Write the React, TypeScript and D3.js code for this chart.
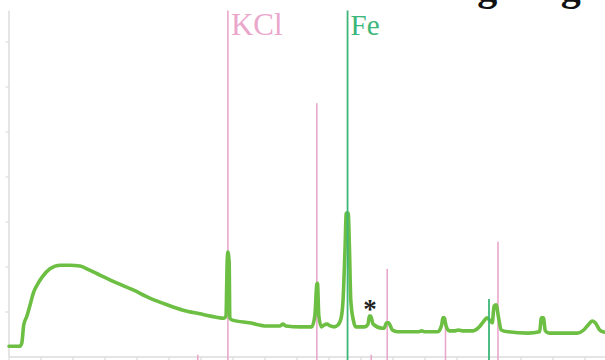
import { useEffect, useRef } from 'react';
import * as d3 from 'd3';

// measured pattern: 2-theta (deg) and intensity (k counts)
const TWO_THETA = [
  10.0, 10.8, 11.7, 12.0, 12.3, 12.8, 13.3, 13.8, 14.4, 15.2, 16.4, 18.0, 19.5, 21.1, 22.6,
  24.2, 26.9, 29.4, 32.0, 34.7, 37.2, 39.8, 42.2, 43.6, 43.9, 44.1, 44.2, 44.4, 44.5, 44.9,
  47.6, 50.3, 52.3, 52.8, 53.3, 55.5, 57.3, 57.8, 58.1, 58.2, 58.4, 58.8, 59.2, 59.7, 60.2,
  60.8, 61.4, 61.9, 62.2, 62.5, 62.7, 63.0, 63.2, 63.4, 63.8, 64.2, 65.6, 66.1, 66.3, 66.5,
  66.9, 68.3, 68.6, 69.0, 69.3, 69.9, 70.7, 72.3, 73.9, 74.5, 75.0, 77.0, 77.6, 77.8, 78.0,
  78.3, 78.8, 79.6, 80.2, 81.0, 82.5, 83.5, 84.1, 84.7, 85.2, 85.5, 85.8, 86.1, 86.5, 86.9,
  88.0, 91.1, 92.9, 93.2, 93.5, 93.8, 94.4, 98.8, 99.8, 100.6, 101.1, 101.6, 102.3, 102.8, 104.4,
];
const INTENSITY = [
  0.24, 0.24, 0.24, 0.31, 0.71, 0.91, 1.16, 1.42, 1.60, 1.78, 1.96, 2.04, 2.04, 2.02, 1.93,
  1.82, 1.64, 1.49, 1.31, 1.16, 1.04, 0.96, 0.89, 0.86, 0.91, 2.16, 2.33, 2.11, 0.87, 0.82,
  0.76, 0.69, 0.69, 0.73, 0.69, 0.67, 0.67, 0.93, 1.62, 1.64, 0.93, 0.67, 0.71, 0.73, 0.69,
  0.67, 0.71, 0.87, 1.27, 2.38, 3.20, 3.20, 2.38, 1.27, 0.82, 0.67, 0.67, 0.73, 0.91, 0.91,
  0.73, 0.64, 0.64, 0.76, 0.76, 0.60, 0.56, 0.56, 0.56, 0.58, 0.56, 0.56, 0.71, 0.87, 0.87,
  0.69, 0.58, 0.58, 0.60, 0.58, 0.58, 0.67, 0.78, 0.87, 0.80, 0.76, 1.13, 1.16, 0.87, 0.60,
  0.56, 0.53, 0.56, 0.87, 0.87, 0.58, 0.53, 0.53, 0.60, 0.73, 0.80, 0.76, 0.60, 0.56, 0.53,
];

// reference stick patterns (position, relative height)
const KCL_POS = [44.2, 58.1, 69.1, 78.2, 86.4, 39.5, 66.6];
const KCL_HEIGHT = [7.7, 5.64, 1.96, 0.89, 2.56, 0.05, 0.05];
const FE_POS = [62.9, 85.0];
const FE_HEIGHT = [7.7, 1.29];

const X_TICKS = d3.range(10, 105, 5);
const Y_TICKS = [1, 2, 3, 4, 5, 6, 7];

const PHASES = ['KCl', 'Fe'];
const PHASE_COLORS = ['#eba6cc', '#3db67a'];

export default function App() {
  const svgRef = useRef<SVGSVGElement>(null);

  useEffect(() => {
    if (!svgRef.current) return;
    const width = 605;
    const svg = d3.select(svgRef.current);
    svg.selectAll('*').remove();

    const x = d3.scaleLinear().domain([10, 103.125]).range([9, width]);
    const y = d3.scaleLinear().domain([0, 7.7]).range([357, 10.5]);

    // title, mostly cut off by the crop
    svg.append('text')
      .attr('x', 444).attr('y', 0)
      .attr('font-family', '"Liberation Serif", "Times New Roman", serif')
      .attr('font-weight', 700).attr('font-size', 40)
      .attr('fill', '#111')
      .text('ing diagram');

    // axes
    const axisColor = '#dcdcdc';
    svg.append('line')
      .attr('x1', 9).attr('x2', 9).attr('y1', y(7.7)).attr('y2', y(0))
      .attr('stroke', axisColor).attr('stroke-width', 1.5);
    svg.append('g').selectAll('line').data(Y_TICKS).join('line')
      .attr('x1', 5.5).attr('x2', 9)
      .attr('y1', d => y(d)).attr('y2', d => y(d))
      .attr('stroke', axisColor).attr('stroke-width', 1.2);
    svg.append('line')
      .attr('x1', 9).attr('x2', width).attr('y1', y(0)).attr('y2', y(0))
      .attr('stroke', axisColor).attr('stroke-width', 1.5);
    svg.append('g').selectAll('line').data(X_TICKS).join('line')
      .attr('x1', d => x(d)).attr('x2', d => x(d))
      .attr('y1', y(0)).attr('y2', y(0) + 3.5)
      .attr('stroke', axisColor).attr('stroke-width', 1.2);

    // reference sticks
    const sticks = [
      ...KCL_POS.map((p, i) => ({ phase: 0, pos: p, h: KCL_HEIGHT[i] })),
      ...FE_POS.map((p, i) => ({ phase: 1, pos: p, h: FE_HEIGHT[i] })),
    ];

    // pattern
    const line = d3.line<number>()
      .x((_, i) => x(TWO_THETA[i]))
      .y(d => y(d))
      .curve(d3.curveMonotoneX);

    svg.append('g').selectAll('line').data(sticks.filter(s => s.phase === 0)).join('line')
      .attr('x1', d => x(d.pos)).attr('x2', d => x(d.pos))
      .attr('y1', 362).attr('y2', d => y(d.h))
      .attr('stroke', PHASE_COLORS[0]).attr('stroke-width', 1.6);

    svg.append('path')
      .datum(INTENSITY)
      .attr('d', line)
      .attr('fill', 'none')
      .attr('stroke', '#6cbf43')
      .attr('stroke-width', 3.6)
      .attr('stroke-linejoin', 'round')
      .attr('stroke-linecap', 'round');

    svg.append('g').selectAll('line').data(sticks.filter(s => s.phase === 1)).join('line')
      .attr('x1', d => x(d.pos)).attr('x2', d => x(d.pos))
      .attr('y1', 362).attr('y2', d => y(d.h))
      .attr('stroke', PHASE_COLORS[1]).attr('stroke-width', 1.8);

    // phase labels next to the strongest stick
    PHASES.forEach((name, i) => {
      const pos = i === 0 ? KCL_POS[0] : FE_POS[0];
      svg.append('text')
        .attr('x', x(pos) + 3).attr('y', 35)
        .attr('font-family', '"Liberation Serif", "Times New Roman", serif')
        .attr('font-size', i === 0 ? 31 : 29)
        .attr('fill', PHASE_COLORS[i])
        .text(name);
    });

    // unidentified peak
    svg.append('text')
      .attr('x', x(66.4)).attr('y', 318)
      .attr('text-anchor', 'middle')
      .attr('font-family', '"Liberation Serif", "Times New Roman", serif')
      .attr('font-weight', 700).attr('font-size', 27)
      .attr('fill', '#222')
      .text('*');
  }, []);

  return (
    <svg
      ref={svgRef}
      width={605}
      height={360}
      style={{ position: 'absolute', left: 0, top: 0, background: '#fff' }}
    />
  );
}
